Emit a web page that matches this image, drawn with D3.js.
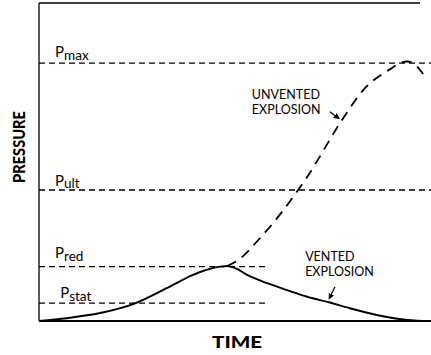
<!DOCTYPE html>
<html><head><meta charset="utf-8">
<script src="https://cdn.jsdelivr.net/npm/d3@7"></script>
<style>
html,body{margin:0;padding:0;background:#fff;}
svg{display:block;font-family:Lato, "Open Sans", sans-serif;}
</style></head>
<body>
<svg id="chart" width="431" height="355"></svg>
<script>
// ---- data (time and pressure in arbitrary units, 0-100) ----
const ventedTime     = [0, 7.1, 15.6, 24.0, 32.7, 39.3, 41.1, 46.2, 48.0, 50.5, 53.1, 58.2, 63.3, 68.4, 74.2, 79.3, 86.2, 92.9, 98.0];
const ventedPressure = [0, 0.9, 2.5, 5.3, 10.4, 14.5, 15.4, 17.1, 17.3, 16.4, 14.5, 11.9, 9.7, 7.6, 5.8, 4.0, 1.9, 0.5, 0];

const unventedTime     = [48.0, 50.5, 56.4, 62.0, 66.1, 68.4, 77.3, 82.7, 90.1, 92.1, 93.9, 95.4, 98.0];
const unventedPressure = [17.3, 18.9, 26.1, 34.3, 41.2, 45.3, 63.2, 72.6, 79.6, 81.1, 81.6, 81.1, 77.7];

const levelNames  = ["max", "ult", "red", "stat"];
const levelValues = [81.1, 41.2, 17.1, 5.6];
const levelEnds   = [100, 100, 57.7, 57.7];
const levelLabelP = [83.0, 42.5, 19.7, 7.1];
const levelLabelT = [4.1, 4.1, 4.1, 5.4];

const axisTitleX = "TIME";
const axisTitleY = "PRESSURE";
const unventedLabel = ["UNVENTED", "EXPLOSION"];
const ventedLabel   = ["VENTED", "EXPLOSION"];

// ---- layout ----
const svg = d3.select("#chart");
const x = d3.scaleLinear().domain([0, 100]).range([39, 431]);
const y = d3.scaleLinear().domain([0, 100]).range([321, 3]);

// arrowhead marker
svg.append("defs").append("marker")
  .attr("id", "ah").attr("viewBox", "0 0 10 10").attr("refX", 9).attr("refY", 5)
  .attr("markerWidth", 5).attr("markerHeight", 5).attr("orient", "auto")
  .append("path").attr("d", "M0,0 L10,5 L0,10 z").attr("fill", "#000");

// frame: left, top, bottom
svg.append("line").attr("x1", x(0)).attr("x2", x(0)).attr("y1", y(100)).attr("y2", y(0))
  .attr("stroke", "#000").attr("stroke-width", 1.3);
svg.append("line").attr("x1", x(0)).attr("x2", x(97.2)).attr("y1", y(100)).attr("y2", y(100))
  .attr("stroke", "#000").attr("stroke-width", 1.5);
svg.append("line").attr("x1", x(0)).attr("x2", x(100)).attr("y1", y(0)).attr("y2", y(0))
  .attr("stroke", "#000").attr("stroke-width", 1.8);

// level lines
levelValues.forEach((v, i) => {
  svg.append("line")
    .attr("x1", x(0)).attr("x2", x(levelEnds[i]))
    .attr("y1", y(v)).attr("y2", y(v))
    .attr("stroke", "#000").attr("stroke-width", 1.3)
    .attr("stroke-dasharray", "6,4");
  const t = svg.append("text")
    .attr("x", x(levelLabelT[i])).attr("y", y(levelLabelP[i]))
    .attr("font-size", 15).attr("fill", "#000");
  t.append("tspan").text("P");
  t.append("tspan").attr("dy", 2.5).attr("font-size", 13.5).text(levelNames[i]);
});

// curves
const line = d3.line().x(d => x(d[0])).y(d => y(d[1])).curve(d3.curveMonotoneX);
svg.append("path")
  .datum(ventedTime.map((t, i) => [t, ventedPressure[i]]))
  .attr("d", line).attr("fill", "none").attr("stroke", "#000").attr("stroke-width", 2);
svg.append("path")
  .datum(unventedTime.map((t, i) => [t, unventedPressure[i]]))
  .attr("d", line).attr("fill", "none").attr("stroke", "#000").attr("stroke-width", 1.8)
  .attr("stroke-dasharray", "10,7");

// annotations
function label(lines, t, p0, p1) {
  const g = svg.append("text").attr("font-size", 12.5).attr("fill", "#000");
  g.append("tspan").attr("x", x(t)).attr("y", y(p0)).text(lines[0]);
  g.append("tspan").attr("x", x(t)).attr("y", y(p1)).text(lines[1]);
}
label(unventedLabel, 54.3, 69.7, 65.1);
label(ventedLabel, 67.9, 19.0, 14.2);

function arrow(t0, p0, t1, p1) {
  svg.append("line").attr("x1", x(t0)).attr("y1", y(p0)).attr("x2", x(t1)).attr("y2", y(p1))
    .attr("stroke", "#000").attr("stroke-width", 1.2).attr("marker-end", "url(#ah)");
}
arrow(74.2, 65.8, 76.6, 63.6);
arrow(75.5, 10.8, 74.0, 6.9);

// axis titles
svg.append("text").attr("x", 237).attr("y", 348).attr("text-anchor", "middle")
  .attr("font-size", 17).attr("font-weight", 900)
  .attr("textLength", 50).attr("lengthAdjust", "spacingAndGlyphs").text(axisTitleX);
svg.append("text").attr("transform", "translate(25,147) rotate(-90)").attr("text-anchor", "middle")
  .attr("font-size", 16).attr("font-weight", 900)
  .attr("textLength", 72).attr("lengthAdjust", "spacingAndGlyphs").text(axisTitleY);
</script>
</body></html>
